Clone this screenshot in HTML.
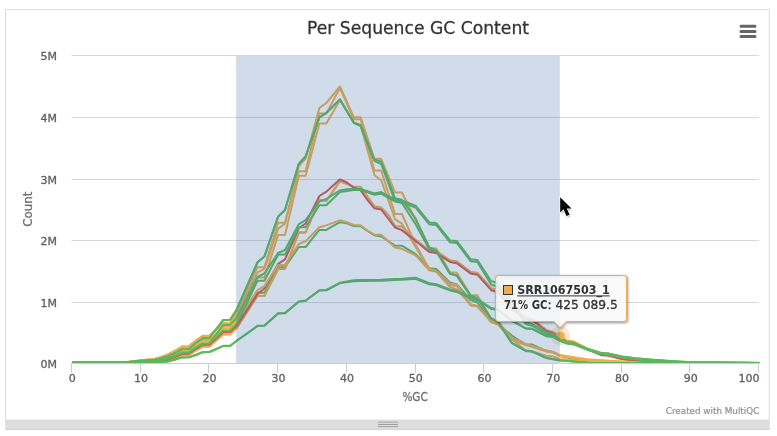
<!DOCTYPE html>
<html lang="en">
<head>
<meta charset="utf-8">
<title>Per Sequence GC Content</title>
<style>
html,body{margin:0;padding:0;background:#fff;width:777px;height:436px;overflow:hidden}
body{position:relative;font-family:"DejaVu Sans","Liberation Sans",sans-serif}
</style>
</head>
<body>
<svg width="777" height="436" viewBox="0 0 777 436" style="position:absolute;left:0;top:0;display:block">
<rect x="0" y="0" width="777" height="436" fill="#ffffff"/>
<path d="M5.55 420 V9.5 H769.3 V420" fill="none" stroke="#dcdcdc" stroke-width="1" stroke-linejoin="miter"/>
<rect x="5.2" y="419.5" width="764.55" height="10.1" fill="#dedede"/>
<rect x="5.2" y="428.9" width="764.55" height="0.8" fill="#cbcbcb"/>
<rect x="378" y="421.70" width="20" height="0.9" fill="#999999"/>
<rect x="378" y="424.05" width="20" height="0.9" fill="#999999"/>
<rect x="378" y="426.20" width="20" height="0.9" fill="#999999"/>
<path d="M71.5 363.5 H759" stroke="#D8D8D8" stroke-width="1" fill="none"/>
<path d="M71.5 302.5 H759" stroke="#D8D8D8" stroke-width="1" fill="none"/>
<path d="M71.5 240.5 H759" stroke="#D8D8D8" stroke-width="1" fill="none"/>
<path d="M71.5 179.5 H759" stroke="#D8D8D8" stroke-width="1" fill="none"/>
<path d="M71.5 117.5 H759" stroke="#D8D8D8" stroke-width="1" fill="none"/>
<path d="M71.5 55.5 H759" stroke="#D8D8D8" stroke-width="1" fill="none"/>
<path d="M71 363.5 H759.5" stroke="#C0D0E0" stroke-width="1" fill="none"/>
<path d="M71.5 363 V372.8" stroke="#C0D0E0" stroke-width="1" fill="none"/>
<path d="M140.5 363 V372.8" stroke="#C0D0E0" stroke-width="1" fill="none"/>
<path d="M208.5 363 V372.8" stroke="#C0D0E0" stroke-width="1" fill="none"/>
<path d="M277.5 363 V372.8" stroke="#C0D0E0" stroke-width="1" fill="none"/>
<path d="M346.5 363 V372.8" stroke="#C0D0E0" stroke-width="1" fill="none"/>
<path d="M415.5 363 V372.8" stroke="#C0D0E0" stroke-width="1" fill="none"/>
<path d="M483.5 363 V372.8" stroke="#C0D0E0" stroke-width="1" fill="none"/>
<path d="M552.5 363 V372.8" stroke="#C0D0E0" stroke-width="1" fill="none"/>
<path d="M621.5 363 V372.8" stroke="#C0D0E0" stroke-width="1" fill="none"/>
<path d="M689.5 363 V372.8" stroke="#C0D0E0" stroke-width="1" fill="none"/>
<path d="M758.5 363 V372.8" stroke="#C0D0E0" stroke-width="1" fill="none"/>
<defs><clipPath id="plotclip"><rect x="72" y="56" width="687.5" height="307"/></clipPath></defs>
<g fill="none" stroke-width="2" stroke-linejoin="round" stroke-linecap="round" clip-path="url(#plotclip)">
<path d="M72.0 362.8 L120.1 362.6 L127.0 362.4 L140.7 361.6 L147.6 361.1 L154.5 360.8 L161.3 360.0 L168.2 358.8 L175.1 356.2 L182.0 353.0 L188.8 352.8 L195.7 348.1 L202.6 343.9 L209.4 343.7 L223.2 330.9 L230.1 330.7 L236.9 324.5 L257.5 292.7 L264.4 292.7 L278.2 267.2 L285.0 267.2 L298.8 247.0 L305.6 247.0 L319.4 229.9 L326.3 229.9 L340.0 222.2 L346.9 223.2 L353.8 226.0 L360.6 226.2 L367.5 231.0 L374.4 235.2 L381.2 236.5 L395.0 245.5 L401.9 245.7 L415.6 254.2 L429.3 268.3 L436.2 269.0 L450.0 282.5 L456.8 284.5 L470.6 300.0 L477.4 302.5 L491.2 322.0 L498.1 323.9 L511.8 335.5 L518.7 340.0 L525.6 344.2 L532.4 344.6 L546.2 351.0 L553.0 352.0 L559.9 356.0 L573.7 359.0 L587.4 361.0 L621.8 362.4 L759.2 363.0" stroke="#5cb85c"/>
<path d="M72.0 362.8 L120.1 362.4 L127.0 362.0 L140.7 360.4 L147.6 359.7 L154.5 359.2 L161.3 357.3 L168.2 354.7 L175.1 351.0 L182.0 346.9 L188.8 346.7 L195.7 341.2 L202.6 336.4 L209.4 336.2 L223.2 323.4 L230.1 323.2 L236.9 314.5 L257.5 272.4 L264.4 268.9 L278.2 228.6 L285.0 223.7 L298.8 166.0 L305.6 158.5 L319.4 107.9 L326.3 103.0 L340.0 86.5 L353.8 117.3 L360.6 117.3 L374.4 158.8 L381.2 158.8 L395.0 192.5 L401.9 192.5 L408.7 206.0 L415.6 220.0 L429.3 248.0 L436.2 248.4 L450.0 272.2 L456.8 272.8 L470.6 295.0 L477.4 295.2 L491.2 318.7 L498.1 321.3 L511.8 339.0 L525.6 350.6 L532.4 351.5 L546.2 355.8 L553.0 356.5 L559.9 359.0 L573.7 360.3 L587.4 361.7 L621.8 362.7 L759.2 363.0" stroke="#f0ad4e"/>
<path d="M72.0 362.8 L120.1 362.4 L127.0 362.0 L140.7 360.3 L147.6 359.6 L154.5 359.0 L161.3 357.0 L168.2 354.3 L175.1 350.5 L182.0 346.3 L188.8 346.1 L195.7 340.6 L202.6 335.8 L209.4 335.6 L223.2 322.9 L230.1 322.7 L236.9 313.0 L257.5 267.2 L264.4 267.2 L278.2 222.8 L285.0 222.8 L298.8 171.3 L305.6 171.3 L319.4 113.4 L326.3 113.4 L340.0 88.0 L353.8 119.2 L360.6 119.2 L374.4 170.6 L381.2 170.6 L395.0 214.0 L401.9 214.0 L415.6 244.5 L429.3 269.0 L436.2 270.9 L450.0 283.8 L456.8 284.4 L470.6 304.6 L477.4 305.9 L491.2 321.3 L498.1 323.9 L511.8 337.7 L525.6 344.2 L532.4 346.1 L546.2 350.6 L553.0 351.9 L559.9 355.1 L573.7 357.2 L587.4 359.3 L601.1 360.3 L621.8 361.4 L649.2 362.7 L759.2 363.0" stroke="#f0ad4e"/>
<path d="M72.0 362.8 L120.1 362.4 L127.0 362.1 L140.7 360.5 L147.6 359.8 L154.5 359.3 L161.3 357.5 L168.2 355.0 L175.1 351.4 L182.0 347.4 L188.8 347.2 L195.7 343.3 L202.6 340.1 L209.4 339.9 L223.2 326.7 L230.1 326.5 L236.9 319.5 L257.5 277.5 L264.4 277.5 L278.2 235.0 L285.0 235.0 L298.8 175.8 L305.6 175.8 L319.4 123.5 L326.3 123.5 L340.0 100.0 L353.8 122.7 L360.6 125.0 L374.4 175.1 L381.2 180.2 L395.0 219.2 L401.9 223.7 L415.6 247.0 L429.3 270.0 L436.2 271.5 L450.0 285.0 L456.8 286.0 L470.6 305.5 L477.4 306.5 L491.2 322.0 L498.1 324.5 L511.8 339.7 L525.6 345.0 L532.4 347.0 L546.2 351.5 L553.0 352.5 L559.9 356.0 L573.7 357.8 L587.4 359.9 L601.1 360.8 L621.8 361.8 L649.2 362.7 L759.2 363.0" stroke="#f0ad4e"/>
<path d="M72.0 362.8 L120.1 362.7 L127.0 362.6 L140.7 362.2 L147.6 361.8 L154.5 361.5 L161.3 361.1 L168.2 360.3 L175.1 358.2 L182.0 355.3 L188.8 355.1 L195.7 350.6 L202.6 346.8 L209.4 346.6 L223.2 334.5 L230.1 334.3 L236.9 327.8 L257.5 295.9 L264.4 295.9 L278.2 268.9 L285.0 268.9 L298.8 232.5 L305.6 232.5 L319.4 199.7 L326.3 201.0 L340.0 181.2 L346.9 183.8 L353.8 187.0 L360.6 187.0 L374.4 206.3 L381.2 207.6 L388.1 214.7 L395.0 226.2 L401.9 226.5 L415.6 240.0 L429.3 250.5 L436.2 251.0 L450.0 260.5 L456.8 261.5 L470.6 272.0 L477.4 273.0 L491.2 288.0 L498.1 290.5 L511.8 307.0 L525.6 317.5 L532.4 319.0 L546.2 330.0 L553.0 332.0 L559.9 336.2 L566.8 340.6 L573.7 341.4 L587.4 348.8 L601.1 354.8 L608.0 355.2 L621.8 358.9 L635.5 360.5 L642.4 361.1 L663.0 362.4 L759.2 363.0" stroke="#f0ad4e" stroke-width="2.3"/>
<path d="M72.0 362.8 L120.1 362.6 L127.0 362.5 L140.7 361.8 L147.6 361.3 L154.5 361.0 L161.3 360.5 L168.2 359.4 L175.1 357.0 L182.0 353.9 L188.8 353.7 L195.7 349.1 L202.6 345.0 L209.4 344.8 L223.2 332.3 L230.1 332.1 L236.9 325.8 L257.5 294.0 L264.4 288.5 L278.2 263.8 L285.0 259.3 L298.8 228.0 L305.6 223.5 L319.4 196.0 L326.3 191.7 L340.0 179.3 L346.9 182.5 L353.8 187.7 L360.6 190.2 L367.5 200.0 L374.4 208.3 L381.2 209.5 L395.0 227.5 L401.9 230.1 L415.6 241.0 L429.3 252.0 L436.2 252.9 L450.0 261.9 L456.8 263.2 L470.6 273.5 L477.4 274.7 L491.2 290.2 L498.1 292.5 L511.8 309.0 L525.6 319.0 L532.4 320.5 L546.2 331.0 L553.0 333.0 L559.9 337.3 L566.8 342.0 L573.7 342.9 L587.4 349.3 L601.1 355.2 L608.0 355.5 L621.8 359.1 L635.5 360.6 L642.4 361.3 L663.0 362.4 L759.2 363.0" stroke="#d9534f"/>
<circle cx="560.4" cy="335.9" r="9.7" fill="#f0ad4e" fill-opacity="0.25" stroke="none"/>
<circle cx="560.4" cy="335.9" r="4.5" fill="#f0ad4e" stroke="none"/>
<path d="M72.0 362.8 L120.1 362.5 L127.0 362.3 L140.7 361.1 L147.6 360.6 L154.5 360.2 L161.3 359.1 L168.2 357.4 L175.1 354.4 L182.0 350.9 L188.8 350.7 L195.7 345.8 L202.6 341.5 L209.4 341.2 L223.2 328.5 L230.1 328.3 L236.9 321.5 L257.5 290.1 L264.4 286.1 L278.2 264.9 L285.0 264.9 L298.8 244.0 L305.6 241.3 L319.4 227.3 L326.3 225.4 L340.0 220.2 L346.9 222.3 L353.8 225.0 L360.6 225.3 L367.5 230.5 L374.4 234.6 L381.2 234.8 L395.0 247.5 L401.9 248.8 L415.6 255.4 L429.3 270.2 L436.2 271.5 L450.0 287.0 L456.8 289.5 L470.6 304.6 L477.4 305.9 L491.2 321.3 L498.1 323.9 L511.8 338.5 L525.6 344.2 L532.4 346.1 L546.2 350.6 L553.0 351.9 L559.9 355.3 L573.7 357.5 L587.4 360.1 L601.1 361.0 L621.8 362.1 L649.2 362.8 L759.2 363.0" stroke="#f0ad4e"/>
<path d="M72.0 362.8 L120.1 362.5 L127.0 362.2 L140.7 360.8 L147.6 360.2 L154.5 359.7 L161.3 358.3 L168.2 356.2 L175.1 352.9 L182.0 349.1 L188.8 348.9 L195.7 343.2 L202.6 338.2 L209.4 338.0 L223.2 320.1 L230.1 319.9 L236.9 309.2 L257.5 262.3 L264.4 256.5 L278.2 216.4 L285.0 210.0 L298.8 163.8 L305.6 156.3 L319.4 117.5 L326.3 113.0 L340.0 99.4 L353.8 122.8 L360.6 126.2 L374.4 160.8 L381.2 164.0 L395.0 201.3 L401.9 203.0 L415.6 224.3 L429.3 249.3 L436.2 251.3 L450.0 273.9 L456.8 275.8 L470.6 296.0 L477.4 298.4 L491.2 318.9 L498.1 321.9 L511.8 343.2 L525.6 351.0 L532.4 351.8 L546.2 358.0 L559.9 360.5 L587.4 362.7 L759.2 363.0" stroke="#5cb85c"/>
<path d="M72.0 362.8 L120.1 362.5 L127.0 362.2 L140.7 360.8 L147.6 360.2 L154.5 359.7 L161.3 358.3 L168.2 356.2 L175.1 352.9 L182.0 349.1 L188.8 348.9 L195.7 343.2 L202.6 338.2 L209.4 338.0 L223.2 320.1 L230.1 319.9 L236.9 309.2 L257.5 262.3 L264.4 256.5 L278.2 216.4 L285.0 210.0 L298.8 163.8 L305.6 156.3 L319.4 117.5 L326.3 113.0 L340.0 99.4 L353.8 122.5 L360.6 125.5 L374.4 159.6 L381.2 161.4 L395.0 198.3 L401.9 199.8 L415.6 218.5 L429.3 247.5 L436.2 250.5 L450.0 273.5 L456.8 275.4 L470.6 295.6 L477.4 298.0 L491.2 318.5 L498.1 321.5 L511.8 342.9 L525.6 350.6 L532.4 351.3 L546.2 357.7 L559.9 360.3 L587.4 362.7 L759.2 363.0" stroke="#5cb85c"/>
<path d="M72.0 362.8 L127.0 362.7 L140.7 362.3 L154.5 362.0 L161.3 361.7 L168.2 361.4 L175.1 359.6 L182.0 357.4 L188.8 357.3 L195.7 355.0 L202.6 352.2 L209.4 352.0 L223.2 346.1 L230.1 346.0 L236.9 340.8 L257.5 326.1 L264.4 325.7 L278.2 313.6 L285.0 313.3 L298.8 301.7 L305.6 300.8 L319.4 290.5 L326.3 290.3 L340.0 283.1 L353.8 281.2 L360.6 281.1 L381.2 280.8 L395.0 280.0 L401.9 279.8 L415.6 278.8 L429.3 284.2 L436.2 285.3 L450.0 290.4 L456.8 291.9 L470.6 298.0 L477.4 300.2 L491.2 309.0 L498.1 309.8 L511.8 320.8 L525.6 328.5 L532.4 329.1 L546.2 336.2 L553.0 336.9 L559.9 340.9 L566.8 343.5 L573.7 344.4 L587.4 349.7 L601.1 354.0 L608.0 354.5 L621.8 357.6 L635.5 359.3 L649.2 360.4 L669.9 361.8 L690.5 362.8 L759.2 363.4" stroke="#5cb85c"/>
<path d="M72.0 362.8 L127.0 362.7 L140.7 362.3 L154.5 362.0 L161.3 361.7 L168.2 361.4 L175.1 359.6 L182.0 357.4 L188.8 357.3 L195.7 355.0 L202.6 352.2 L209.4 352.0 L223.2 345.8 L230.1 345.7 L236.9 340.5 L257.5 325.8 L264.4 325.4 L278.2 313.3 L285.0 313.0 L298.8 301.4 L305.6 300.5 L319.4 290.2 L326.3 290.0 L340.0 282.8 L353.8 280.2 L360.6 280.1 L381.2 279.8 L395.0 279.0 L401.9 278.8 L415.6 277.8 L429.3 283.2 L436.2 284.3 L450.0 289.4 L456.8 290.9 L470.6 297.0 L477.4 299.2 L491.2 308.0 L498.1 309.5 L511.8 320.5 L525.6 328.2 L532.4 328.8 L546.2 335.9 L553.0 336.6 L559.9 340.6 L566.8 343.2 L573.7 344.1 L587.4 349.4 L601.1 353.7 L608.0 354.2 L621.8 357.3 L635.5 359.0 L649.2 360.1 L669.9 361.4 L690.5 362.4 L759.2 363.0" stroke="#5cb85c"/>
<path d="M72.0 362.8 L120.1 362.6 L127.0 362.4 L140.7 361.6 L147.6 361.0 L154.5 360.7 L161.3 360.0 L168.2 358.7 L175.1 356.0 L182.0 352.8 L188.8 352.6 L195.7 347.8 L202.6 343.8 L209.4 343.5 L223.2 330.4 L230.1 330.2 L236.9 323.8 L257.5 280.7 L264.4 280.7 L278.2 254.6 L285.0 254.6 L298.8 227.3 L305.6 227.3 L319.4 205.3 L326.3 205.3 L340.0 192.0 L346.9 190.9 L353.8 189.9 L360.6 189.9 L374.4 194.7 L381.2 193.7 L388.1 197.5 L395.0 201.3 L401.9 202.4 L415.6 207.6 L429.3 224.3 L436.2 224.9 L450.0 242.3 L456.8 242.9 L470.6 261.2 L477.4 262.0 L491.2 284.5 L498.1 287.0 L511.8 304.0 L525.6 324.0 L532.4 326.0 L546.2 334.0 L553.0 336.0 L559.9 340.4 L566.8 342.5 L573.7 343.5 L587.4 348.7 L601.1 353.0 L608.0 353.5 L621.8 356.6 L635.5 358.3 L649.2 359.4 L669.9 361.0 L690.5 362.3 L759.2 363.0" stroke="#5cb85c"/>
<path d="M72.0 362.8 L120.1 362.6 L127.0 362.4 L140.7 361.5 L147.6 360.9 L154.5 360.6 L161.3 359.8 L168.2 358.5 L175.1 355.8 L182.0 352.5 L188.8 352.3 L195.7 347.6 L202.6 343.4 L209.4 343.2 L223.2 325.1 L230.1 324.9 L236.9 317.3 L257.5 277.0 L264.4 273.5 L278.2 252.9 L285.0 250.0 L298.8 224.1 L305.6 220.2 L319.4 201.6 L326.3 199.0 L340.0 190.4 L346.9 189.3 L353.8 189.0 L360.6 189.0 L374.4 193.4 L381.2 192.0 L388.1 196.0 L395.0 199.5 L401.9 200.5 L415.6 205.7 L429.3 222.4 L436.2 223.0 L450.0 240.4 L456.8 241.0 L470.6 259.3 L477.4 260.0 L491.2 281.2 L498.1 283.0 L511.8 301.0 L525.6 322.0 L532.4 324.0 L546.2 332.3 L553.0 334.8 L559.9 339.4 L566.8 342.5 L573.7 343.5 L587.4 348.7 L601.1 353.0 L608.0 353.5 L621.8 356.6 L635.5 358.3 L649.2 359.4 L669.9 361.0 L690.5 362.3 L759.2 363.0" stroke="#5cb85c"/>
</g>
<rect x="236.1" y="56" width="323.75" height="307" fill="rgb(69,114,167)" fill-opacity="0.25"/>
<g font-family="'DejaVu Sans', 'Liberation Sans', sans-serif" font-size="11" fill="#606060" stroke="#606060" stroke-width="0.3" text-anchor="end">
<text x="57" y="367.8">0M</text>
<text x="57" y="306.8">1M</text>
<text x="57" y="244.8">2M</text>
<text x="57" y="183.8">3M</text>
<text x="57" y="121.8">4M</text>
<text x="57" y="59.8">5M</text>
</g>
<g font-family="'DejaVu Sans', 'Liberation Sans', sans-serif" font-size="11" fill="#606060" stroke="#606060" stroke-width="0.3" text-anchor="middle">
<text x="72.2" y="381.8">0</text>
<text x="140.9" y="381.8">10</text>
<text x="209.6" y="381.8">20</text>
<text x="278.4" y="381.8">30</text>
<text x="347.1" y="381.8">40</text>
<text x="415.8" y="381.8">50</text>
<text x="484.5" y="381.8">60</text>
<text x="553.2" y="381.8">70</text>
<text x="622.0" y="381.8">80</text>
<text x="690.7" y="381.8">90</text>
<text x="759.5" y="381.8" text-anchor="end">100</text>
</g>
<text font-family="'DejaVu Sans', 'Liberation Sans', sans-serif" font-size="12" fill="#707070" stroke="#707070" stroke-width="0.3" x="402.4" y="401" textLength="25.4" lengthAdjust="spacingAndGlyphs">%GC</text>
<text font-family="'DejaVu Sans', 'Liberation Sans', sans-serif" font-size="12" fill="#707070" stroke="#707070" stroke-width="0.3" transform="translate(32 226.8) rotate(-90)" textLength="35.2" lengthAdjust="spacingAndGlyphs">Count</text>
<text font-family="'DejaVu Sans', 'Liberation Sans', sans-serif" font-size="18" fill="#333333" stroke="#333333" stroke-width="0.3" x="307" y="34.1" textLength="222" lengthAdjust="spacingAndGlyphs">Per Sequence GC Content</text>
<text font-family="'DejaVu Sans', 'Liberation Sans', sans-serif" font-size="9" fill="#909090" stroke="#909090" stroke-width="0.2" x="665.8" y="414" textLength="93.5" lengthAdjust="spacingAndGlyphs">Created with MultiQC</text>
<path d="M741 26.2 H755 M741 31.4 H755 M741 36.6 H755" stroke="#666666" stroke-width="3" stroke-linecap="round" fill="none"/>
<path d="M498.5 275.5 H623.5 Q626.5 275.5 626.5 278.5 V318.5 Q626.5 321.5 623.5 321.5 H566 L560 327.5 L554 321.5 H498.5 Q495.5 321.5 495.5 318.5 V278.5 Q495.5 275.5 498.5 275.5 Z" transform="translate(1 1)" fill="none" stroke="#000" stroke-opacity="0.05" stroke-width="5"/>
<path d="M498.5 275.5 H623.5 Q626.5 275.5 626.5 278.5 V318.5 Q626.5 321.5 623.5 321.5 H566 L560 327.5 L554 321.5 H498.5 Q495.5 321.5 495.5 318.5 V278.5 Q495.5 275.5 498.5 275.5 Z" transform="translate(1 1)" fill="none" stroke="#000" stroke-opacity="0.1" stroke-width="3"/>
<path d="M498.5 275.5 H623.5 Q626.5 275.5 626.5 278.5 V318.5 Q626.5 321.5 623.5 321.5 H566 L560 327.5 L554 321.5 H498.5 Q495.5 321.5 495.5 318.5 V278.5 Q495.5 275.5 498.5 275.5 Z" transform="translate(1 1)" fill="none" stroke="#000" stroke-opacity="0.15" stroke-width="1"/>
<path d="M498.5 275.5 H623.5 Q626.5 275.5 626.5 278.5 V318.5 Q626.5 321.5 623.5 321.5 H566 L560 327.5 L554 321.5 H498.5 Q495.5 321.5 495.5 318.5 V278.5 Q495.5 275.5 498.5 275.5 Z" fill="rgb(249,249,249)" fill-opacity="0.85" stroke="#f0ad4e" stroke-width="1"/>
<rect x="503.5" y="285.5" width="9" height="9" fill="#f0ad4e" stroke="#333333" stroke-width="1"/>
<text font-family="'DejaVu Sans Condensed', 'DejaVu Sans', 'Liberation Sans', sans-serif" font-size="12" font-weight="bold" fill="#333333" x="517.2" y="294.3" textLength="92.6" lengthAdjust="spacingAndGlyphs">SRR1067503_1</text>
<rect x="517.2" y="295.4" width="92.6" height="1" fill="#333333"/>
<text font-family="'DejaVu Sans Condensed', 'DejaVu Sans', 'Liberation Sans', sans-serif" font-size="12" font-weight="bold" fill="#333333" x="503.9" y="309.4" textLength="43.6" lengthAdjust="spacingAndGlyphs">71% GC</text>
<text font-family="'DejaVu Sans', 'Liberation Sans', sans-serif" font-size="12" fill="#333333" stroke="#333333" stroke-width="0.3" x="547.5" y="309.4" textLength="70.3" lengthAdjust="spacingAndGlyphs" xml:space="preserve">: 425 089.5</text>
<defs><filter id="cs" x="-50%" y="-50%" width="200%" height="200%"><feGaussianBlur stdDeviation="0.9"/></filter></defs>
<path d="M560.2 197.3 V212.4 L563.6 209.3 L566.5 216.1 L569.7 214.8 L566.7 208.4 H571.5 Z" transform="translate(0.6 1.4)" fill="#000" fill-opacity="0.35" filter="url(#cs)"/>
<g><path d="M560.2 197.3 V212.4 L563.6 209.3 L566.5 216.1 L569.7 214.8 L566.7 208.4 H571.5 Z" fill="#000" stroke="#fff" stroke-width="1.3" stroke-linejoin="miter" paint-order="stroke"/></g>
</svg>
</body>
</html>
